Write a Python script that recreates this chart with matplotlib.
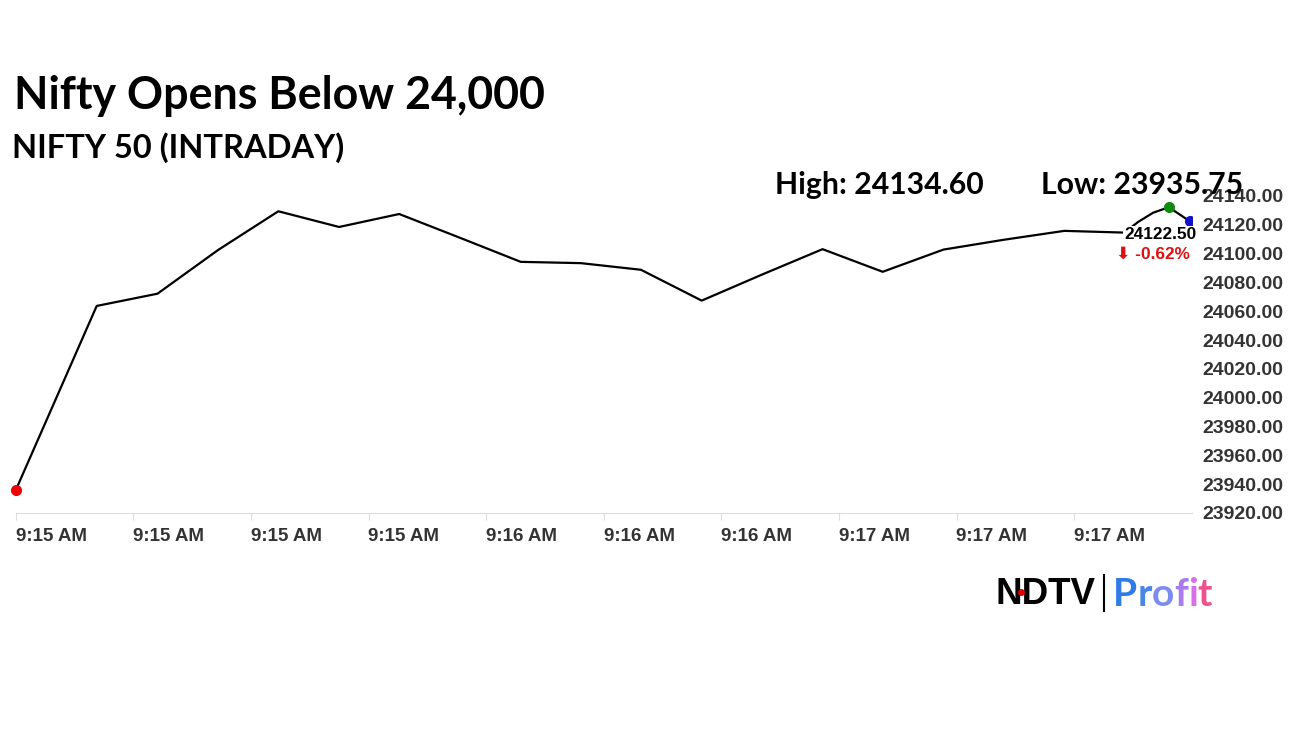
import matplotlib.pyplot as plt
from matplotlib.ticker import FixedLocator

# Datos (segundos desde 9:15:00, valor del indice)
segundos = [0, 12.4, 21.7, 31, 40.2, 49.5, 58.7, 68, 77.3, 86.5, 95.7, 105,
            114.2, 123.5, 132.7, 142, 151.2, 160.5, 169.7, 171.8, 174.1, 176.5, 179.7]
valores = [23935.75, 24063.7, 24072.2, 24102.6, 24129.4, 24118.5, 24127.5, 24111.0,
           24094.3, 24093.4, 24088.8, 24067.4, 24085.4, 24103.1, 24087.4, 24102.8,
           24109.6, 24115.8, 24114.6, 24122.0, 24128.4, 24132.2, 24122.5]

ticks_x = [0, 18, 36, 54, 72, 90, 108, 126, 144, 162]
etiquetas_x = ['9:15 AM', '9:15 AM', '9:15 AM', '9:15 AM', '9:16 AM', '9:16 AM',
               '9:16 AM', '9:17 AM', '9:17 AM', '9:17 AM']
ticks_y = [23920, 23940, 23960, 23980, 24000, 24020, 24040, 24060, 24080,
           24100, 24120, 24140]

titulo = 'Nifty Opens Below 24,000'
subtitulo = 'NIFTY 50 (INTRADAY)'
maximo = 24134.60
minimo = 23935.75
ultimo = 24122.50
cambio = -0.62

fig = plt.figure(figsize=(12.96, 7.29), dpi=100)
ax = fig.add_axes([15.7 / 1296, 1 - 513 / 729, (1191.7 - 15.7) / 1296, (513 - 196) / 729])

ax.plot(segundos, valores, color='black', lw=1.6, zorder=3)
ax.plot(segundos[0], valores[0], 'o', color='#ee0000', ms=7, zorder=4, clip_on=False)
i_max = valores.index(max(valores))
ax.plot(segundos[i_max], valores[i_max], 'o', color='#118811', ms=7, zorder=4)
ax.plot(segundos[-1], valores[-1], 'o', color='#1111cc', ms=7, zorder=4)

ax.set_xlim(0, 180)
ax.set_ylim(23920, 24140)
ax.xaxis.set_major_locator(FixedLocator(ticks_x))
ax.set_xticklabels(etiquetas_x, ha='left')
ax.yaxis.set_major_locator(FixedLocator(ticks_y))
ax.set_yticklabels([f'{v:.2f}' for v in ticks_y])
ax.yaxis.tick_right()

for s in ['top', 'left', 'right']:
    ax.spines[s].set_visible(False)
ax.spines['bottom'].set_color('#dddddd')
ax.tick_params(axis='x', length=5, color='#dddddd', pad=5.5, labelsize=13.5,
               labelcolor='#333333')
ax.tick_params(axis='y', length=0, pad=8, labelsize=14, labelcolor='#333333')
for lab in ax.get_xticklabels() + ax.get_yticklabels():
    lab.set_fontfamily('Liberation Sans')
    lab.set_fontweight('bold')

# etiqueta del ultimo valor
ax.text(segundos[-1] + 1.1, ultimo - 9.5, f'{ultimo:.2f}', ha='right', va='center',
        fontsize=12.4, fontweight='bold', family='Liberation Sans', color='black',
        bbox=dict(facecolor='white', edgecolor='none', pad=1), zorder=5)
ax.text(segundos[-1], ultimo - 22.5, f'\u2b07 {cambio:.2f}%', ha='right', va='center',
        fontsize=12.4, fontweight='bold', family=['Liberation Sans', 'DejaVu Sans'],
        color='#dd1111', zorder=5)

fig.text(14 / 1296, 1 - 96 / 729, titulo, fontsize=32.2, fontweight='bold',
         family='Lato', va='center', ha='left')
fig.text(12 / 1296, 1 - 148 / 729, subtitulo, fontsize=23.5, fontweight='bold',
         family='Lato', va='center', ha='left')
fig.text(775 / 1296, 1 - 185 / 729, f'High: {maximo:.2f}', fontsize=21.7,
         fontweight='bold', family='Lato', va='center', ha='left')
fig.text(1041 / 1296, 1 - 185 / 729, f'Low: {minimo:.2f}', fontsize=21.8,
         fontweight='bold', family='Lato', va='center', ha='left', zorder=1)

# logo NDTV | Profit
fig.text(995 / 1296, 1 - 594 / 729, 'NDTV', fontsize=26.5, fontweight='heavy',
         family='Liberation Sans', va='center', ha='left', color='black')
fig.add_artist(plt.Line2D([1021 / 1296], [1 - 592 / 729], marker='o', color='#e00000',
                          ms=4, zorder=5))
fig.add_artist(plt.Line2D([1104 / 1296, 1104 / 1296], [1 - 575 / 729, 1 - 611 / 729],
                          color='black', lw=1.5))
colores_logo = ['#2f7be8', '#4a86ea', '#7b8cee', '#a77cf0', '#d66fe8', '#f0508e']
renderer = fig.canvas.get_renderer()
x_letra = 1113
for letra, col in zip('Profit', colores_logo):
    t = fig.text(x_letra / 1296, 1 - 594 / 729, letra, fontsize=28, fontweight='bold',
                 family='Lato', va='center', ha='left', color=col)
    x_letra += t.get_window_extent(renderer).width

fig.savefig('out.png', dpi=100, facecolor='white')
